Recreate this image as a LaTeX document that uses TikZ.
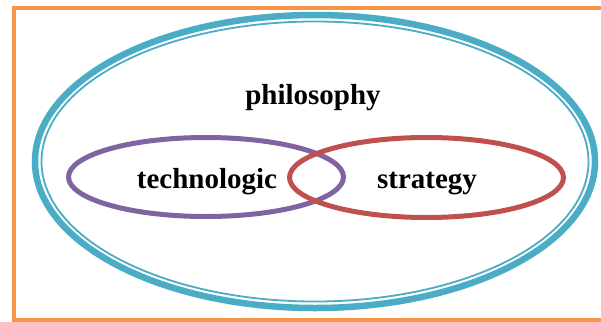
\documentclass[tikz,border=0pt]{standalone}
\usepackage{fontspec}
\setmainfont{Liberation Serif}
\usepackage{tikz}
\usetikzlibrary{
  positioning,
  shapes.geometric
}
\definecolor{frameorange}{HTML}{F79646}
\definecolor{setteal}{HTML}{4BACC6}
\definecolor{setpurple}{HTML}{8064A2}
\definecolor{setred}{HTML}{C0504D}

\begin{document}
\begin{tikzpicture}[
    x=1pt, y=-1pt,
    set/.style={ellipse, draw, inner sep=0pt},
    lbl/.style={anchor=base, inner sep=0pt, font=\bfseries\fontsize{29}{33}\selectfont}
  ]
    \useasboundingbox (0,0) rectangle (601,321);
    \clip (0,0) rectangle (601,321);
    % ---- frame ----
    \draw[frameorange, line width=4pt] (13.5,8.5) rectangle (640,319.5);
    % ---- outer set, double rim ----
    \node[set, draw=setteal, line width=6.5pt, minimum width=560pt, minimum height=293pt] (outer) at (315,161.5) {};
    \node[set, draw=setteal, line width=1.8pt, minimum width=547pt, minimum height=280pt] (inner) at (315,161.5) {};
    \node[lbl] (phil) at (313,104) {philosophy};
    % ---- overlapping sets ----
    \node[set, draw=setpurple, line width=5pt, minimum width=275pt, minimum height=79pt] (tech) at (206,177) {};
    \node[set, draw=setred, line width=5pt, minimum width=274pt, minimum height=80pt] (strat) at (426.5,177.5) {};
    \node[lbl] (techlbl) at (207,188) {technologic};
    \node[lbl] (stratlbl) at (427,188) {strategy};
  \end{tikzpicture}
\end{document}
